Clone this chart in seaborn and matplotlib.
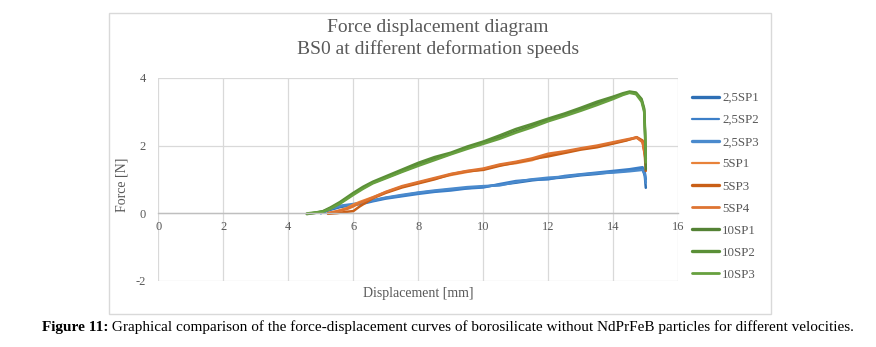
import matplotlib
matplotlib.use("Agg")
import matplotlib.pyplot as plt
from matplotlib.patches import Rectangle
import seaborn as sns

# Force-displacement readings, grouped by deformation speed
x_25 = [5.0, 5.3, 5.6, 6.0, 6.3, 6.6, 7.0, 7.5, 8.0, 8.5, 9.0, 9.5, 10.0, 10.5,
        11.0, 11.5, 12.0, 12.5, 13.0, 13.5, 14.0, 14.5, 14.9, 14.97, 15.0]
f_25sp1 = [0.0, 0.1, 0.18, 0.25, 0.3, 0.37, 0.45, 0.52, 0.6, 0.65, 0.7, 0.74, 0.78,
           0.84, 0.9, 0.97, 1.02, 1.06, 1.12, 1.16, 1.22, 1.26, 1.32, 1.1, 0.75]
f_25sp2 = [0.0, 0.12, 0.2, 0.24, 0.28, 0.35, 0.43, 0.5, 0.57, 0.63, 0.67, 0.73, 0.76,
           0.86, 0.95, 0.99, 1.0, 1.1, 1.15, 1.2, 1.25, 1.3, 1.36, 1.2, 1.0]
f_25sp3 = [0.02, 0.14, 0.22, 0.27, 0.32, 0.38, 0.46, 0.54, 0.61, 0.67, 0.72, 0.77, 0.8,
           0.82, 0.92, 1.0, 1.05, 1.08, 1.14, 1.18, 1.2, 1.24, 1.28, 1.15, 0.9]

x_5 = [5.22, 5.5, 5.8, 6.0, 6.2, 6.6, 7.0, 7.5, 8.0, 8.5, 9.0, 9.5, 10.0, 10.5, 11.0,
       11.5, 12.0, 12.5, 13.0, 13.5, 14.0, 14.4, 14.72, 14.9, 14.97, 15.0]
f_5sp1 = [0.0, 0.06, 0.15, 0.25, 0.33, 0.47, 0.62, 0.78, 0.9, 1.02, 1.13, 1.22, 1.3,
          1.42, 1.48, 1.57, 1.73, 1.8, 1.9, 1.97, 2.08, 2.16, 2.23, 2.12, 1.8, 1.45]
f_5sp3 = [-0.02, 0.0, 0.04, 0.06, 0.2, 0.44, 0.6, 0.76, 0.88, 1.0, 1.15, 1.24, 1.28,
          1.4, 1.5, 1.6, 1.68, 1.78, 1.88, 1.95, 2.06, 2.15, 2.25, 2.15, 1.7, 1.25]
f_5sp4 = [0.0, 0.05, 0.12, 0.2, 0.3, 0.46, 0.63, 0.8, 0.92, 1.04, 1.16, 1.25, 1.32,
          1.44, 1.52, 1.62, 1.76, 1.83, 1.92, 2.0, 2.1, 2.18, 2.24, 2.1, 1.75, 1.5]

x_10 = [4.57, 4.8, 5.07, 5.3, 5.59, 6.0, 6.3, 6.6, 7.0, 7.5, 8.0, 8.5, 9.0, 9.5, 10.0,
        10.5, 11.0, 11.5, 12.0, 12.5, 13.0, 13.5, 14.0, 14.3, 14.5, 14.7, 14.87, 14.95,
        14.98, 15.0]
f_10sp1 = [-0.02, 0.0, 0.05, 0.15, 0.3, 0.57, 0.75, 0.9, 1.05, 1.24, 1.43, 1.6, 1.76,
           1.93, 2.08, 2.24, 2.42, 2.58, 2.77, 2.9, 3.07, 3.25, 3.42, 3.52, 3.58, 3.55,
           3.35, 3.05, 2.2, 1.3]
f_10sp2 = [-0.03, 0.01, 0.06, 0.17, 0.33, 0.6, 0.78, 0.93, 1.09, 1.29, 1.49, 1.66, 1.79,
           1.97, 2.12, 2.3, 2.49, 2.64, 2.8, 2.95, 3.12, 3.3, 3.45, 3.55, 3.6, 3.57,
           3.38, 3.1, 2.4, 1.6]
f_10sp3 = [-0.01, 0.02, 0.04, 0.13, 0.28, 0.54, 0.72, 0.88, 1.03, 1.22, 1.4, 1.57, 1.74,
           1.9, 2.05, 2.2, 2.38, 2.54, 2.72, 2.87, 3.03, 3.2, 3.38, 3.5, 3.56, 3.52,
           3.3, 3.0, 2.3, 1.5]

series_names = ["2,5SP1", "2,5SP2", "2,5SP3", "5SP1", "5SP3", "5SP4",
                "10SP1", "10SP2", "10SP3"]
x_tick_values = list(range(0, 17, 2))
y_tick_values = [-2, 0, 2, 4]

sns.set_theme(style="white")
plt.rcParams["font.family"] = ["Liberation Serif", "DejaVu Serif"]
plt.rcParams["axes.unicode_minus"] = False

TEXT = "#595959"
GRID = "#D9D9D9"

fig = plt.figure(figsize=(8.76, 3.47), dpi=100)
W, H = 876, 347

# chart frame
fig.patches.append(Rectangle((109 / W, 1 - 314 / H), (771 - 109) / W, (314 - 13) / H,
                             transform=fig.transFigure, fill=False,
                             edgecolor=GRID, linewidth=1.0))

ax = fig.add_axes([158.3 / W, 1 - 280.7 / H, (678.3 - 158.3) / W, (280.7 - 78.0) / H])

styles = [
    (x_25, f_25sp1, "#2E6FB5", 2.0, 1.8),
    (x_25, f_25sp2, "#3C7FC8", 1.2, 1.8),
    (x_25, f_25sp3, "#4A8ACD", 2.0, 1.8),
    (x_5, f_5sp1, "#E8823A", 1.2, 1.8),
    (x_5, f_5sp3, "#C95F17", 2.0, 1.8),
    (x_5, f_5sp4, "#DE7432", 1.6, 1.8),
    (x_10, f_10sp1, "#548235", 2.0, 1.8),
    (x_10, f_10sp2, "#5A8F37", 2.0, 1.8),
    (x_10, f_10sp3, "#67A03F", 1.6, 1.8),
]

handles = []
for name, (xs, ys, col, lw_leg, lw) in zip(series_names, styles):
    sns.lineplot(x=xs, y=ys, ax=ax, color=col, linewidth=lw, sort=False,
                 estimator=None, legend=False)
    handles.append(plt.Line2D([], [], color=col, linewidth=lw_leg + 0.4, label=name))

ax.set_xlim(0, 16)
ax.set_ylim(-2, 4)
ax.set_xticks(x_tick_values)
ax.set_yticks(y_tick_values)
ax.grid(True, color=GRID, linewidth=0.9)
for s in ["top", "right", "left"]:
    ax.spines[s].set_visible(False)
ax.spines["bottom"].set_position(("data", 0))
ax.spines["bottom"].set_color("#BFBFBF")
ax.spines["bottom"].set_linewidth(1.0)
ax.tick_params(axis="both", length=0, labelsize=9, colors=TEXT)
ax.tick_params(axis="x", pad=6)
ax.tick_params(axis="y", pad=9)
ax.set_axisbelow(True)
ax.set_xlabel("")
ax.set_ylabel("")

fig.text(122 / W, 1 - 185 / H, "Force [N]", rotation=90, ha="center", va="center",
         fontsize=10, color=TEXT)
fig.text(418 / W, 1 - 294 / H, "Displacement [mm]", ha="center", va="center",
         fontsize=10, color=TEXT)

fig.text(438 / W, 1 - 28 / H, "Force displacement diagram", ha="center", va="center",
         fontsize=14, color=TEXT)
fig.text(438 / W, 1 - 49 / H, "BS0 at different deformation speeds", ha="center",
         va="center", fontsize=14, color=TEXT)

leg = fig.legend(handles=handles, loc="upper left",
                 bbox_to_anchor=(692 / W, 1 - 92 / H), frameon=False, fontsize=9.3,
                 handlelength=2.1, handletextpad=0.25, labelspacing=0.78,
                 borderaxespad=0, borderpad=0)
for t in leg.get_texts():
    t.set_color(TEXT)

# caption: bold label followed by regular text, centred as one line
fig.canvas.draw()
r = fig.canvas.get_renderer()
cap_y = 1 - 327 / H
t1 = fig.text(0, cap_y, "Figure 11:", fontsize=11, fontweight="bold", color="black",
              va="center", ha="left")
t2 = fig.text(0, cap_y, " Graphical comparison of the force-displacement curves of "
              "borosilicate without NdPrFeB particles for different velocities.",
              fontsize=11, color="black", va="center", ha="left")
w1 = t1.get_window_extent(r).width
w2 = t2.get_window_extent(r).width
start = 448 - (w1 + w2) / 2
t1.set_x(start / W)
t2.set_x((start + w1) / W)

fig.savefig("out.png", dpi=100, facecolor="white")
